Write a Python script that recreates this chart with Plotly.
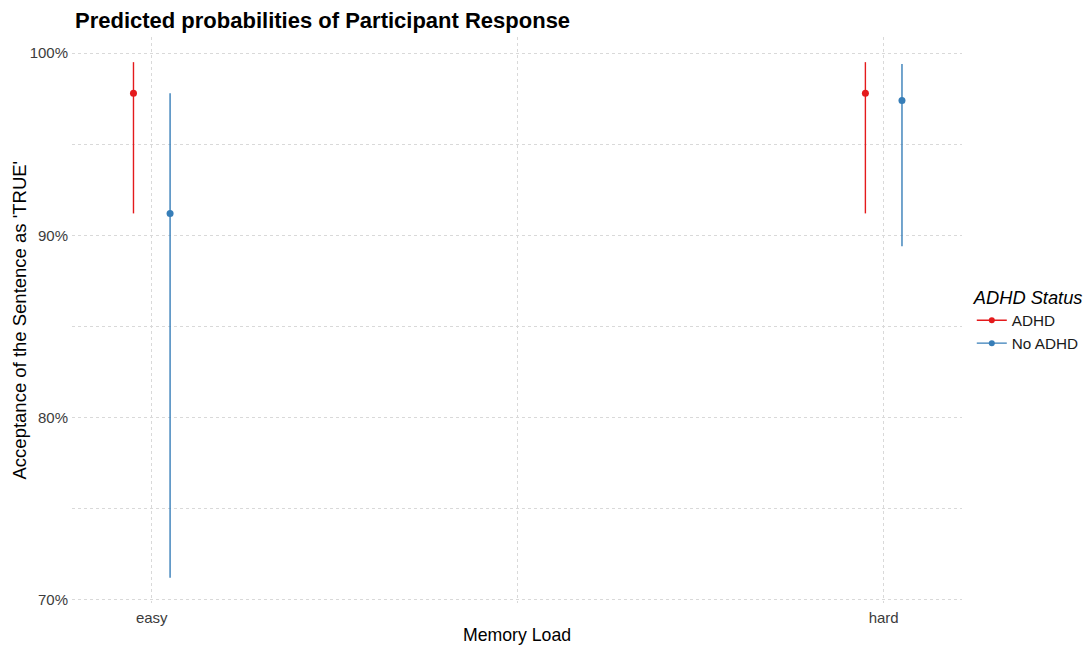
import plotly.graph_objects as go

categories = ["easy", "hard"]
groups = ["ADHD", "No ADHD"]
colors = {"ADHD": "#E41A1C", "No ADHD": "#377EB8"}
est = {"ADHD": [0.978, 0.978], "No ADHD": [0.912, 0.974]}
lower = {"ADHD": [0.912, 0.912], "No ADHD": [0.712, 0.894]}
upper = {"ADHD": [0.995, 0.995], "No ADHD": [0.978, 0.994]}
dodge = {"ADHD": -0.025, "No ADHD": 0.025}

fig = go.Figure()
for g in groups:
    xs = [i + 1 + dodge[g] for i in range(len(categories))]
    lx, ly = [], []
    for x, lo, hi in zip(xs, lower[g], upper[g]):
        lx += [x, x, None]
        ly += [lo, hi, None]
    fig.add_trace(go.Scatter(x=lx, y=ly, mode="lines", line=dict(color=colors[g], width=1.4),
                             showlegend=False, hoverinfo="skip", legendgroup=g))
    fig.add_trace(go.Scatter(x=xs, y=est[g], mode="markers", marker=dict(color=colors[g], size=7),
                             showlegend=False, legendgroup=g))
    fig.add_trace(go.Scatter(x=[None], y=[None], mode="lines+markers", name=g, legendgroup=g,
                             line=dict(color=colors[g], width=1.4), marker=dict(color=colors[g], size=6)))

grid = "#D9D9D9"
dash = "3px,3px"
W, H = 1091, 646
l, r, t, b = 72, 129, 37, 43
pw = W - l - r
fig.update_layout(
    width=W, height=H,
    margin=dict(l=l, r=r, t=t, b=b, autoexpand=False),
    paper_bgcolor="white", plot_bgcolor="white",
    font=dict(family="Liberation Sans, Arial, sans-serif", color="#3C3C3C", size=15),
    title=dict(text="<b>Predicted probabilities of Participant Response</b>",
               x=75 / W, xanchor="left", xref="container",
               y=1 - 20 / H, yanchor="middle", yref="container",
               font=dict(size=22, color="black")),
    showlegend=True,
    legend=dict(title=dict(text="<i>ADHD Status</i>", font=dict(size=18.3, color="black")),
                font=dict(size=15.3, color="#1A1A1A"),
                x=1.011, xanchor="left", y=0.5, yanchor="middle",
                tracegroupgap=0, itemwidth=30),
    xaxis=dict(range=[0.891, 2.107], tickvals=[1, 2], ticktext=categories,
               showgrid=True, gridcolor=grid, griddash=dash, gridwidth=1,
               minor=dict(tickvals=[1.5], showgrid=True, gridcolor=grid, griddash=dash, gridwidth=1),
               zeroline=False, showline=False, ticks="", automargin=False, ticklabelstandoff=4,
               title=dict(text="Memory Load", font=dict(size=17.7, color="black"), standoff=3),
               tickfont=dict(size=15, color="#3C3C3C")),
    yaxis=dict(range=[0.6982, 1.0088], tickvals=[0.7, 0.8, 0.9, 1.0], tickformat=".0%",
               showgrid=True, gridcolor=grid, griddash=dash, gridwidth=1,
               minor=dict(tickvals=[0.75, 0.85, 0.95], showgrid=True, gridcolor=grid, griddash=dash, gridwidth=1),
               zeroline=False, showline=False, ticks="", automargin=False, ticklabelstandoff=3,
               tickfont=dict(size=15, color="#3C3C3C")),
    annotations=[dict(text="Acceptance of the Sentence as 'TRUE'", textangle=-90,
                      x=(18.5 - l) / pw, xref="paper", xanchor="center",
                      y=0.5, yref="paper", yanchor="middle", showarrow=False,
                      font=dict(size=18.5, color="black"))],
)
fig.write_html("out.html")
